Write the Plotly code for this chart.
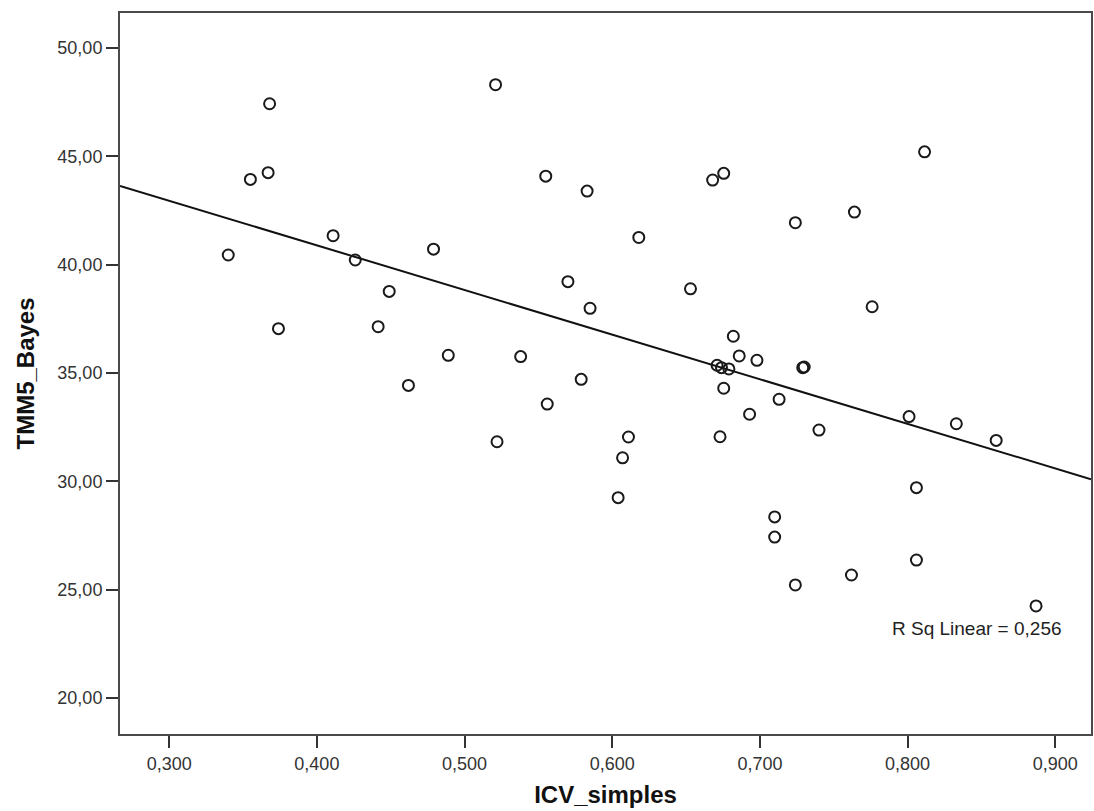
import numpy as np
import plotly.graph_objects as go

# ICV_simples vs TMM5_Bayes observations
icv_simples = [
    0.340, 0.355, 0.367, 0.368, 0.374, 0.411, 0.426, 0.4415, 0.449, 0.462,
    0.479, 0.489, 0.521, 0.522, 0.538, 0.555, 0.556, 0.570, 0.579, 0.583,
    0.585, 0.604, 0.607, 0.611, 0.618, 0.653, 0.668, 0.671, 0.673, 0.674,
    0.6755, 0.6755, 0.679, 0.682, 0.686, 0.693, 0.698, 0.710, 0.710, 0.713,
    0.724, 0.724, 0.729, 0.730, 0.740, 0.762, 0.764, 0.776, 0.801, 0.806,
    0.806, 0.8115, 0.833, 0.860, 0.887,
]
tmm5_bayes = [
    40.45, 43.94, 44.25, 47.43, 37.05, 41.34, 40.22, 37.14, 38.77, 34.43,
    40.72, 35.82, 48.31, 31.83, 35.76, 44.09, 33.57, 39.22, 34.71, 43.40,
    37.99, 29.25, 31.09, 32.05, 41.26, 38.89, 43.91, 35.36, 32.06, 35.25,
    44.22, 34.30, 35.19, 36.70, 35.79, 33.10, 35.59, 28.36, 27.43, 33.79,
    41.94, 25.22, 35.25, 35.28, 32.37, 25.68, 42.43, 38.06, 32.99, 29.71,
    26.37, 45.21, 32.66, 31.89, 24.25,
]

x_ticks = [0.3, 0.4, 0.5, 0.6, 0.7, 0.8, 0.9]
x_tick_labels = ["0,300", "0,400", "0,500", "0,600", "0,700", "0,800", "0,900"]
y_ticks = [20, 25, 30, 35, 40, 45, 50]
y_tick_labels = ["20,00", "25,00", "30,00", "35,00", "40,00", "45,00", "50,00"]

x_range = [0.2667, 0.9242]
y_range = [18.34, 51.62]

r_sq_label = "R Sq Linear = 0,256"

# least-squares fit line across the full x range
x_arr = np.array(icv_simples)
y_arr = np.array(tmm5_bayes)
slope, intercept = np.polyfit(x_arr, y_arr, 1)
fit_x = np.array(x_range)
fit_y = intercept + slope * fit_x

axis_font = dict(family="Liberation Sans, Arial, sans-serif", size=18, color="#333333")
title_font = dict(family="Liberation Sans, Arial, sans-serif", size=24, color="#111111")

fig = go.Figure()
fig.add_trace(go.Scatter(
    x=fit_x, y=fit_y, mode="lines",
    line=dict(color="#111111", width=2),
    hoverinfo="skip", showlegend=False,
))
fig.add_trace(go.Scatter(
    x=icv_simples, y=tmm5_bayes, mode="markers",
    marker=dict(symbol="circle-open", size=11, color="#1a1a1a", line=dict(width=2, color="#1a1a1a")),
    showlegend=False,
))

fig.add_annotation(
    x=0.847, y=23.2, xref="x", yref="y",
    text=r_sq_label, showarrow=False,
    font=dict(family="Liberation Sans, Arial, sans-serif", size=19, color="#222222"),
)

fig.update_layout(
    width=1094, height=811,
    margin=dict(l=120, r=1, t=13, b=77),
    paper_bgcolor="white", plot_bgcolor="white",
    font=axis_font,
)
fig.update_xaxes(
    range=x_range, tickvals=x_ticks, ticktext=x_tick_labels,
    showgrid=False, zeroline=False,
    showline=True, linecolor="#4a4a4a", linewidth=2, mirror=True,
    ticks="outside", ticklen=12, tickwidth=2, tickcolor="#333333",
    tickfont=axis_font,
    title=dict(text="<b>ICV_simples</b>", font=title_font, standoff=14),
)
fig.update_yaxes(
    range=y_range, tickvals=y_ticks, ticktext=y_tick_labels,
    showgrid=False, zeroline=False,
    showline=True, linecolor="#4a4a4a", linewidth=2, mirror=True,
    ticks="outside", ticklen=12, tickwidth=2, tickcolor="#333333",
    tickfont=axis_font,
    title=dict(text="<b>TMM5_Bayes</b>", font=title_font, standoff=16),
)

fig.write_html("out.html")
